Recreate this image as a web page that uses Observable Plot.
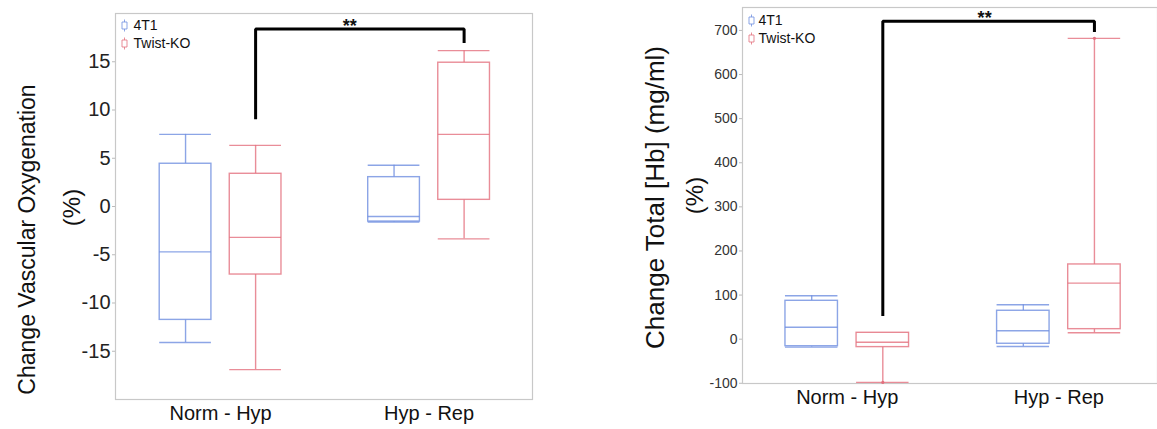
<!DOCTYPE html>
<html>
<head>
<meta charset="utf-8">
<script src="https://cdn.jsdelivr.net/npm/d3@7"></script>
<script src="https://cdn.jsdelivr.net/npm/@observablehq/plot@0.6"></script>
<style>
html, body { margin: 0; padding: 0; background: #fff; overflow: hidden; width: 1157px; height: 429px; }
#wrap { position: relative; width: 1157px; height: 429px; }
#left, #right { position: absolute; top: 0; }
#left { left: 0; width: 560px; }
#right { left: 560px; width: 600px; }
svg { font-family: "Liberation Sans", Arial, sans-serif; }
</style>
</head>
<body>
<div id="wrap"><div id="left"></div><div id="right"></div></div>
<script>
// ---- data ----
const categories = ["Norm - Hyp", "Hyp - Rep"];
const groups = ["4T1", "Twist-KO"];
const groupColors = ["#6f8fe0", "#e3707e"];

// box order: Norm-Hyp 4T1, Norm-Hyp Twist-KO, Hyp-Rep 4T1, Hyp-Rep Twist-KO
const boxCategory = ["Norm - Hyp", "Norm - Hyp", "Hyp - Rep", "Hyp - Rep"];
const boxGroup = ["4T1", "Twist-KO", "4T1", "Twist-KO"];

// Left panel: change in vascular oxygenation (%)
const oxyMin = [-14.1, -16.9, -1.6, -3.35];
const oxyQ1 = [-11.75, -7.05, -1.56, 0.69];
const oxyMedian = [-4.7, -3.2, -1.04, 7.47];
const oxyQ3 = [4.43, 3.39, 3.04, 14.9];
const oxyMax = [7.47, 6.33, 4.28, 16.15];
const oxyTicks = [-15, -10, -5, 0, 5, 10, 15];
const oxyBracket = [9.2, 18.4, 17.1]; // left leg end, bar level, right leg end

// Right panel: change in total [Hb] (%)
const hbMin = [-18, -98, -16.6, 14.5];
const hbQ1 = [-16, -18, -10.4, 22.7];
const hbMedian = [27, -7, 19, 127];
const hbQ3 = [87, 14.5, 64.4, 169.4];
const hbMax = [98.4, 14.5, 78, 682];
const hbTicks = [-100, 0, 100, 200, 300, 400, 500, 600, 700];
const hbExtremeBox = [1, 3];
const hbExtremeValue = [-98, 682];
const hbBracket = [56, 721, 700];

// ---- layout helpers ----
const xOff = 0.168;
const halfW = 0.124;
const xPos = (cat, grp) => categories.indexOf(cat) + (groups.indexOf(grp) === 0 ? -xOff : xOff);

function buildRows(mins, q1s, meds, q3s, maxs) {
  return boxCategory.map((c, i) => ({
    category: c, group: boxGroup[i], x: xPos(c, boxGroup[i]),
    min: mins[i], q1: q1s[i], med: meds[i], q3: q3s[i], max: maxs[i]
  }));
}

const boxGlyph = {
  draw(ctx) {
    ctx.moveTo(-2.5, -3.5); ctx.lineTo(2.5, -3.5); ctx.lineTo(2.5, 3.5); ctx.lineTo(-2.5, 3.5); ctx.closePath();
    ctx.moveTo(0, -3.5); ctx.lineTo(0, -6);
    ctx.moveTo(0, 3.5); ctx.lineTo(0, 6);
  }
};

function panel(o) {
  const rows = o.rows;
  const bx0 = xPos(categories[0], groups[1]);
  const bx1 = xPos(categories[1], groups[1]);
  const bracketPts = [
    {x: bx0, y: o.bracket[0]}, {x: bx0, y: o.bracket[1]},
    {x: bx1, y: o.bracket[1]}, {x: bx1, y: o.bracket[2]}
  ];
  const common = {stroke: "group", strokeWidth: 1.4, strokeOpacity: 0.8};
  const legendMarks = groups.flatMap((g, i) => [
    Plot.dot([g], {frameAnchor: "top-left", dx: o.legend[0], dy: o.legend[1] + 18 * i,
      symbol: boxGlyph, r: 3, stroke: groupColors[i], strokeWidth: 1, fill: "white", strokeOpacity: 0.8}),
    Plot.text([g], {frameAnchor: "top-left", dx: o.legend[2], dy: o.legend[1] + 18 * i,
      text: d => d, textAnchor: "start", lineAnchor: "middle", fontSize: 14, fill: "#111"})
  ]);
  return Plot.plot({
    width: o.width, height: o.height,
    marginLeft: o.margins[0], marginRight: o.margins[1], marginTop: o.margins[2], marginBottom: o.margins[3],
    style: {maxWidth: "none", background: "white", fontFamily: '"Liberation Sans", Arial, sans-serif'},
    x: {domain: o.xDomain, label: null},
    y: {domain: o.yDomain, label: null},
    color: {domain: groups, range: groupColors},
    marks: [
      Plot.frame({stroke: "#c8c8c8", strokeWidth: 1.2}),
      Plot.axisY({ticks: o.yTicks, tickFormat: d => String(d), tickSize: 3, tickPadding: 2,
        fontSize: o.tickFont, stroke: "#bbb", fill: o.tickColor, label: null}),
      Plot.axisX({ticks: [0, 1], tickFormat: i => categories[i], tickSize: 0, tickPadding: 6,
        fontSize: 20, fill: "#111", label: null}),
      Plot.ruleX(rows, {x: "x", y1: "q3", y2: "max", ...common}),
      Plot.ruleX(rows, {x: "x", y1: "min", y2: "q1", ...common}),
      Plot.ruleY(rows, {y: "max", x1: d => d.x - halfW, x2: d => d.x + halfW, ...common}),
      Plot.ruleY(rows, {y: "min", x1: d => d.x - halfW, x2: d => d.x + halfW, ...common}),
      Plot.rect(rows, {x1: d => d.x - halfW, x2: d => d.x + halfW, y1: "q1", y2: "q3", fill: "white", ...common}),
      Plot.ruleY(rows, {y: "med", x1: d => d.x - halfW, x2: d => d.x + halfW, ...common}),
      ...(o.extremes ? [Plot.dot(o.extremes, {x: "x", y: "y", r: 1.6, fill: "group"})] : []),
      Plot.line(bracketPts, {x: "x", y: "y", stroke: "black", strokeWidth: 3, strokeLinejoin: "miter", strokeLinecap: "square"}),
      Plot.text([{x: (bx0 + bx1) / 2, y: o.bracket[1], t: "**"}], {x: "x", y: "y", text: "t",
        fontWeight: "bold", fontSize: 18, lineAnchor: "bottom", dy: 3, dx: o.starDx, fill: "#111"}),
      Plot.text([o.title[0]], {frameAnchor: "left", rotate: -90, dx: o.titlePos[0], dy: o.titlePos[1],
        text: d => d, fontSize: o.titleFont, fill: "#111", textAnchor: "middle", lineAnchor: "middle"}),
      Plot.text([o.title[1]], {frameAnchor: "left", rotate: -90, dx: o.titlePos[2], dy: o.titlePos[3],
        text: d => d, fontSize: 24, fill: "#111", textAnchor: "middle", lineAnchor: "middle"}),
      ...legendMarks
    ]
  });
}

const left = panel({
  rows: buildRows(oxyMin, oxyQ1, oxyMedian, oxyQ3, oxyMax),
  width: 560, height: 429, margins: [115, 28, 13, 30],
  xDomain: [-0.504, 1.496], yDomain: [-20, 20], yTicks: oxyTicks,
  tickFont: 20, tickColor: "#222", bracket: oxyBracket, starDx: -10,
  title: ["Change Vascular Oxygenation", "(%)"], titleFont: 23, titlePos: [-88, 33, -43, 1],
  legend: [9, 12, 18]
});
document.getElementById("left").appendChild(left);

const hbRows = buildRows(hbMin, hbQ1, hbMedian, hbQ3, hbMax);
const right = panel({
  rows: hbRows,
  extremes: hbExtremeBox.map((b, i) => ({x: hbRows[b].x, y: hbExtremeValue[i], group: hbRows[b].group})),
  width: 600, height: 429, margins: [182, 3, 7, 46],
  xDomain: [-0.495, 1.466], yDomain: [-100.5, 752], yTicks: hbTicks,
  tickFont: 14, tickColor: "#333", bracket: hbBracket, starDx: -4,
  title: ["Change Total [Hb] (mg/ml)", "(%)"], titleFont: 26, titlePos: [-87, 2, -47, 0],
  legend: [9, 13, 16]
});
document.getElementById("right").appendChild(right);
</script>
</body>
</html>
